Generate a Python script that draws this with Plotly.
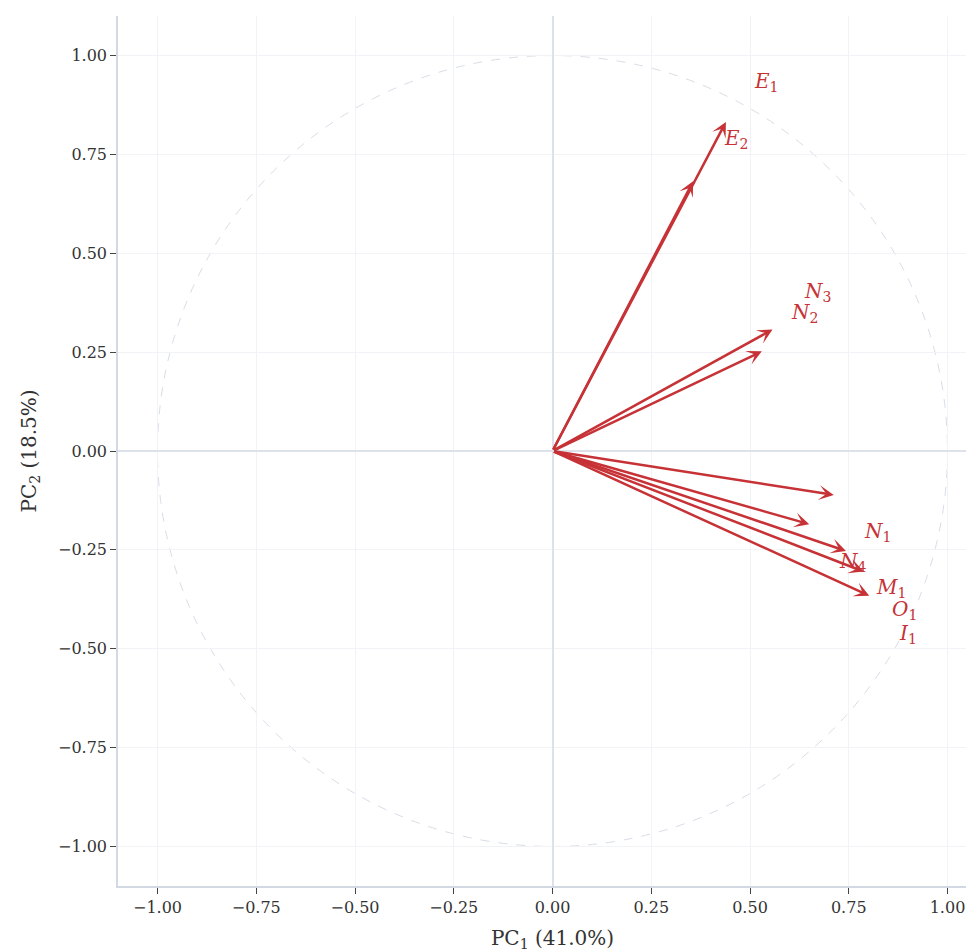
import plotly.graph_objects as go

# Loadings (arrow tips)
VAR_NAMES = ["E1", "E2", "N2", "N3", "A", "N1", "N4", "M1", "O1"]
PC1 = [0.439, 0.356, 0.557, 0.530, 0.712, 0.650, 0.743, 0.788, 0.802]
PC2 = [0.832, 0.682, 0.307, 0.252, -0.111, -0.185, -0.253, -0.305, -0.366]

# Label texts and their positions
LABELS = ["<i>E</i><sub>1</sub>", "<i>E</i><sub>2</sub>", "<i>N</i><sub>3</sub>", "<i>N</i><sub>2</sub>",
          "<i>N</i><sub>1</sub>", "<i>N</i><sub>4</sub>", "<i>M</i><sub>1</sub>", "<i>O</i><sub>1</sub>",
          "<i>I</i><sub>1</sub>"]
LABEL_X = [0.543, 0.465, 0.670, 0.639, 0.823, 0.760, 0.857, 0.892, 0.901]
LABEL_Y = [0.934, 0.788, 0.402, 0.349, -0.204, -0.280, -0.346, -0.401, -0.464]

TICKS = [-1.0, -0.75, -0.5, -0.25, 0.0, 0.25, 0.5, 0.75, 1.0]
X_TITLE = "PC<sub>1</sub> (41.0%)"
Y_TITLE = "PC<sub>2</sub> (18.5%)"

RED = "#c63236"
FONT = "DejaVu Serif"

fig = go.Figure()
# invisible trace to set up axes
fig.add_trace(go.Scatter(x=PC1, y=PC2, mode="markers", marker=dict(opacity=0), hoverinfo="skip",
                         showlegend=False))

fig.add_shape(type="circle", xref="x", yref="y", x0=-1, y0=-1, x1=1, y1=1,
              line=dict(color="#d8dde6", width=1, dash="dash"), layer="below")

for x, y in zip(PC1, PC2):
    fig.add_annotation(x=x, y=y, ax=0, ay=0, xref="x", yref="y", axref="x", ayref="y",
                       showarrow=True, arrowhead=3, arrowsize=1.0, arrowwidth=2.5,
                       arrowcolor=RED, text="")

for t, x, y in zip(LABELS, LABEL_X, LABEL_Y):
    fig.add_annotation(x=x, y=y, xref="x", yref="y", text=t, showarrow=False,
                       font=dict(family=FONT, size=20, color=RED))

axis_common = dict(
    tickvals=TICKS, tickformat=".2f", showgrid=True, gridcolor="#f1f3f7", gridwidth=1,
    zeroline=True, zerolinecolor="#dde2ea", zerolinewidth=1.5,
    showline=True, linecolor="#d3d9e3", linewidth=1.5,
    ticks="outside", ticklen=6, tickcolor="#444444", tickwidth=1,
    tickfont=dict(family=FONT, size=16, color="#333333"),
)

fig.update_xaxes(range=[-1.1, 1.1], title=dict(text=X_TITLE, font=dict(family=FONT, size=20, color="#333333"),
                                               standoff=18), **axis_common)
fig.update_yaxes(range=[-1.1, 1.1], title=dict(text=Y_TITLE, font=dict(family=FONT, size=20, color="#333333"),
                                               standoff=16), **axis_common)

fig.update_layout(
    width=979, height=944,
    margin=dict(l=110, r=0, t=8, b=66),
    plot_bgcolor="white", paper_bgcolor="white",
    font=dict(family=FONT, color="#333333"),
    showlegend=False,
)

fig.write_html("out.html")
